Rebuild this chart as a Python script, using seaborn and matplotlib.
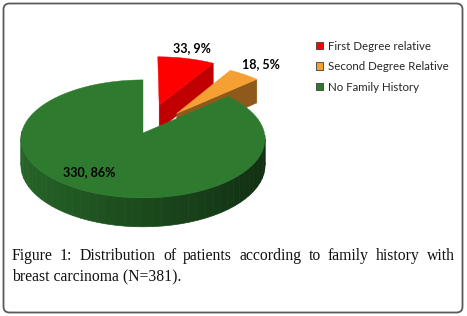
import numpy as np
import matplotlib
matplotlib.use("Agg")
import matplotlib.pyplot as plt
import seaborn as sns
from matplotlib.patches import Polygon, FancyBboxPatch, Patch

# ---------------- data ----------------
categories = ["First Degree relative", "Second Degree Relative", "No Family History"]
counts = [33, 18, 330]
percent_labels = ["9%", "5%", "86%"]
caption_lines = ["Figure 1: Distribution of patients according to family history with",
                 "breast carcinoma (N=381)."]

# ---------------- style ----------------
top_colors = ["#FF0000", "#F5A033", "#2E7B30"]
side_colors = ["#C00000", "#8E5A1B", "#2E7B30"]
explode = [0.52, 0.45, 0.0]
label_r = [1.25, 1.28, 0.75]
label_shift = [0.0, 0.0, -9.6]

sns.set_theme(style="white")
plt.rcParams["font.family"] = ["Lato", "DejaVu Sans"]

W, H = 467, 316
fig = plt.figure(figsize=(W / 100, H / 100), dpi=100)
fig.patch.set_facecolor("white")
ax = fig.add_axes([0, 0, 1, 1])
ax.set_xlim(0, W)
ax.set_ylim(H, 0)
ax.axis("off")

# 3D pie projection (layout)
CX, CY, RX, RY, DEPTH, PERSP = 143, 133, 121.4, 58.4, 26, 0.10


def proj(X, Y, Z=0.0):
    p = 1.0 / (1.0 + PERSP * Y)
    return CX + RX * X * p, CY - RY * Y * p + DEPTH * Z * p


def shade(color, f):
    c = np.array(matplotlib.colors.to_rgb(color))
    return tuple(np.clip(c * f, 0, 1))


total = float(sum(counts))
fracs = np.array(counts) / total
ends = 90 - 360 * np.cumsum(fracs)
starts = np.r_[90, ends[:-1]]

for i in range(len(counts)):
    t1, t2 = ends[i], starts[i]
    mid = np.radians((t1 + t2) / 2)
    ox, oy = explode[i] * np.cos(mid), explode[i] * np.sin(mid)
    ts = np.radians(np.linspace(t1, t2, max(int((t2 - t1) / 1.0), 4)))

    # radial cut faces
    for a, sgn in ((np.radians(t1), 1), (np.radians(t2), -1)):
        ny = -np.cos(a) * sgn
        if ny < -1e-6:
            pts = [proj(ox, oy), proj(ox + np.cos(a), oy + np.sin(a)),
                   proj(ox + np.cos(a), oy + np.sin(a), 1), proj(ox, oy, 1)]
            ax.add_patch(Polygon(pts, closed=True, facecolor=side_colors[i],
                                 edgecolor=side_colors[i], lw=0.3))

    # outer curved side (front half only)
    step = np.radians(4)
    seg = np.arange(np.radians(t1), np.radians(t2), step)
    seg = np.r_[seg, np.radians(t2)]
    for a0, a1 in zip(seg[:-1], seg[1:]):
        am = (a0 + a1) / 2
        if np.sin(am) < 0:
            col = shade(side_colors[i], 0.60 - 0.22 * np.cos(am))
            aa = np.linspace(a0, a1, 4)
            pts = [proj(ox + np.cos(a), oy + np.sin(a)) for a in aa] + \
                  [proj(ox + np.cos(a), oy + np.sin(a), 1) for a in aa[::-1]]
            ax.add_patch(Polygon(pts, closed=True, facecolor=col,
                                 edgecolor=col, lw=0.5))

    # top face
    pts = [proj(ox, oy)] + [proj(ox + np.cos(a), oy + np.sin(a)) for a in ts]
    ax.add_patch(Polygon(pts, closed=True, facecolor=top_colors[i],
                         edgecolor=top_colors[i], lw=0.3))

    # data label
    la = mid + np.radians(label_shift[i])
    lx, ly = proj(ox + label_r[i] * np.cos(la), oy + label_r[i] * np.sin(la))
    ax.text(lx, ly, f"{counts[i]}, {percent_labels[i]}", ha="center", va="center",
            fontsize=9.0, fontweight="bold", color="black")

# legend
handles = [Patch(facecolor=c, edgecolor="#3a3a3a", lw=0.6) for c in top_colors]
ax.legend(handles, categories, loc="upper left", bbox_to_anchor=(311 / W, 1 - 36 / H),
          frameon=False, fontsize=8.3, handlelength=0.65, handleheight=0.65,
          handletextpad=0.4, labelspacing=0.82, borderaxespad=0)

# outer rounded border
ax.add_patch(FancyBboxPatch((3.5, 3.5), 459, 309,
                            boxstyle="round,pad=0,rounding_size=6",
                            facecolor="none", edgecolor="#5a5a5a", lw=1.3))

# caption (first line justified)
serif = ["Liberation Serif", "DejaVu Serif"]
xl, xr = 12, 455
words = caption_lines[0].split()
txts = [ax.text(0, 260, w, fontsize=11.3, family=serif, va="baseline", ha="left",
                color="#111111") for w in words]
fig.canvas.draw()
rend = fig.canvas.get_renderer()
widths = [t.get_window_extent(rend).width for t in txts]
gap = (xr - xl - sum(widths)) / (len(words) - 1)
x = xl
for t, w in zip(txts, widths):
    t.set_x(x)
    x += w + gap
ax.text(xl, 280, caption_lines[1], fontsize=11.3, family=serif, va="baseline",
        ha="left", color="#111111")

fig.savefig("out.png", dpi=100, facecolor="white")
